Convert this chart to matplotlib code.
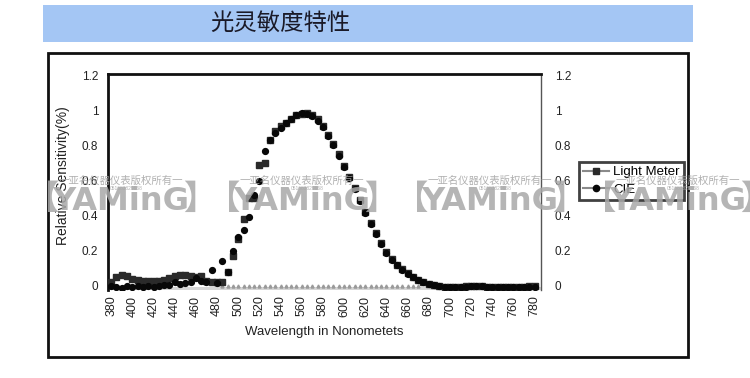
import matplotlib
matplotlib.use("Agg")
import matplotlib.pyplot as plt
from matplotlib.patches import Rectangle
from matplotlib.lines import Line2D

plt.rcParams['font.family'] = ['Liberation Sans', 'Noto Sans CJK SC', 'DejaVu Sans']

title = "光灵敏度特性"
x_label = "Wavelength in Nonometets"
y_label = "Relative Sensitivity(%)"
series_names = ["Light Meter", "CIE"]

wavelengths = [380, 385, 390, 395, 400, 405, 410, 415, 420, 425,
               430, 435, 440, 445, 450, 455, 460, 465, 470, 475,
               480, 485, 490, 495, 500, 505, 510, 515, 520, 525,
               530, 535, 540, 545, 550, 555, 560, 565, 570, 575,
               580, 585, 590, 595, 600, 605, 610, 615, 620, 625,
               630, 635, 640, 645, 650, 655, 660, 665, 670, 675,
               680, 685, 690, 695, 700, 705, 710, 715, 720, 725,
               730, 735, 740, 745, 750, 755, 760, 765, 770, 775, 780]

light_meter = [0.02, 0.05, 0.065, 0.055, 0.04, 0.035, 0.03, 0.03, 0.03, 0.03,
               0.035, 0.045, 0.055, 0.06, 0.06, 0.055, 0.05, 0.055, 0.03, 0.02,
               0.02, 0.02, 0.08, 0.17, 0.27, 0.38, 0.50, 0.50, 0.69, 0.70,
               0.83, 0.88, 0.91, 0.93, 0.95, 0.97, 0.98, 0.985, 0.97, 0.95,
               0.91, 0.86, 0.81, 0.75, 0.68, 0.62, 0.56, 0.49, 0.42, 0.36,
               0.30, 0.245, 0.195, 0.155, 0.12, 0.095, 0.072, 0.052, 0.036, 0.024,
               0.013, 0.006, 0.0, -0.004, -0.005, -0.005, -0.004, -0.003, -0.002, 0.0,
               -0.002, -0.004, -0.005, -0.005, -0.006, -0.005, -0.005, -0.004, -0.004, -0.003, -0.003]

cie = [0.0, -0.005, -0.012, 0.0, -0.005, 0.0, -0.008, 0.0, -0.005, 0.002,
       0.005, 0.008, 0.02, 0.012, 0.015, 0.025, 0.045, 0.03, 0.02, 0.09,
       0.015, 0.14, 0.08, 0.20, 0.28, 0.32, 0.39, 0.52, 0.60, 0.77,
       0.83, 0.87, 0.90, 0.93, 0.95, 0.975, 0.985, 0.98, 0.965, 0.94,
       0.905, 0.855, 0.80, 0.74, 0.675, 0.615, 0.55, 0.485, 0.415, 0.355,
       0.295, 0.24, 0.19, 0.15, 0.117, 0.09, 0.068, 0.049, 0.034, 0.022,
       0.012, 0.005, -0.002, -0.006, -0.006, -0.006, -0.005, -0.004, 0.0, 0.002,
       0.0, -0.004, -0.006, -0.006, -0.007, -0.006, -0.006, -0.005, -0.005, -0.005, -0.005]

baseline_wl = [485, 490, 495, 500, 505, 510, 515, 520, 525, 530, 535, 540, 545,
               550, 555, 560, 565, 570, 575, 580, 585, 590, 595, 600, 605, 610,
               615, 620, 625, 630, 635, 640, 645, 650, 655, 660, 665, 670]
baseline_vals = [0.0] * len(baseline_wl)

x_ticks = [380, 400, 420, 440, 460, 480, 500, 520, 540, 560, 580,
           600, 620, 640, 660, 680, 700, 720, 740, 760, 780]
y_ticks = [0, 0.2, 0.4, 0.6, 0.8, 1, 1.2]
y_tick_labels = ["0", "0.2", "0.4", "0.6", "0.8", "1", "1.2"]

W, H = 750, 378
fig = plt.figure(figsize=(7.5, 3.78), dpi=100)
fig.patch.set_facecolor('white')

def fx(px):
    return px / W

def fy(py):
    return 1 - py / H

# Title banner
fig.patches.append(Rectangle((fx(43), fy(42)), fx(693) - fx(43), fy(5) - fy(42),
                             transform=fig.transFigure, facecolor='#a4c6f4',
                             edgecolor='none', zorder=0))
fig.text(fx(280), fy(23), title, ha='center', va='center', fontsize=16.8,
         family=['Noto Sans CJK SC', 'DejaVu Sans'], color='#1a1a28')

# Outer frame
fig.patches.append(Rectangle((fx(48), fy(357)), fx(688) - fx(48), fy(53) - fy(357),
                             transform=fig.transFigure, facecolor='none',
                             edgecolor='#111111', linewidth=2.0, zorder=1))

ax = fig.add_axes([fx(108), fy(290), fx(541) - fx(108), fy(74) - fy(290)])
ax.set_xlim(377, 786)
ax.set_ylim(-0.023, 1.206)

ax.axhspan(-0.023, -0.006, color='#d6d6d6', zorder=1, linewidth=0)
ax.plot(baseline_wl, baseline_vals, linestyle='none', marker='^', markersize=2.2,
        color='#9a9a9a', zorder=2)
ax.plot(wavelengths, light_meter, linestyle='none', marker='s', markersize=4.6,
        color='#2a2a2a', zorder=3)
ax.plot(wavelengths, cie, linestyle='none', marker='o', markersize=4.2,
        color='#080808', zorder=4)

ax.set_xticks(x_ticks)
ax.set_xticklabels([str(v) for v in x_ticks], rotation=90, fontsize=9, color='#222222')
ax.set_yticks(y_ticks)
ax.set_yticklabels(y_tick_labels, fontsize=8.5, color='#222222')
ax.tick_params(axis='both', length=0)
ax.tick_params(axis='x', pad=4)
ax.tick_params(axis='y', pad=7)

ax.spines['left'].set_linewidth(2.0)
ax.spines['left'].set_color('#111111')
ax.spines['top'].set_linewidth(2.0)
ax.spines['top'].set_color('#111111')
ax.spines['right'].set_linewidth(1.0)
ax.spines['right'].set_color('#555555')
ax.spines['bottom'].set_visible(False)

ax.set_xlabel(x_label, fontsize=9.5, color='#222222', labelpad=7)
ax.set_ylabel(y_label, fontsize=10, color='#222222')
ax.yaxis.set_label_coords(fx(70) / (fx(541) - fx(108)) - fx(108) / (fx(541) - fx(108)), 0.528)

ax2 = ax.twinx()
ax2.set_ylim(ax.get_ylim())
ax2.set_yticks(y_ticks)
ax2.set_yticklabels(y_tick_labels, fontsize=8.5, color='#222222')
ax2.tick_params(axis='y', length=0, pad=10)
for s in ax2.spines.values():
    s.set_visible(False)

handles = [
    Line2D([0], [0], color='#8a8a8a', linewidth=1.5, marker='s', markersize=5,
           markerfacecolor='#2a2a2a', markeredgecolor='#2a2a2a'),
    Line2D([0], [0], color='#8a8a8a', linewidth=1.5, marker='o', markersize=4.5,
           markerfacecolor='#080808', markeredgecolor='#080808'),
]
leg = fig.legend(handles, series_names, loc='upper left',
                 bbox_to_anchor=(fx(579), fy(162)), fontsize=9.5,
                 frameon=True, fancybox=False, handlelength=2.0,
                 handletextpad=0.3, borderpad=0.3, labelspacing=0.4,
                 borderaxespad=0)
leg.get_frame().set_edgecolor('#111111')
leg.get_frame().set_linewidth(2.0)

# Watermarks
wm_color = '#a8a8a8'
for cx in [121, 302, 490, 678]:
    fig.text(fx(cx), fy(202), "YAMinG", ha='center', va='center', fontsize=23,
             fontweight='bold', color=wm_color, alpha=0.85,
             family=['DejaVu Sans'], zorder=10)
    fig.text(fx(cx - 78), fy(199), "【", ha='center', va='center', fontsize=24,
             fontweight='bold', color=wm_color, alpha=0.85,
             family=['Noto Sans CJK SC'], zorder=10)
    fig.text(fx(cx + 79), fy(199), "】", ha='center', va='center', fontsize=24,
             fontweight='bold', color=wm_color, alpha=0.85,
             family=['Noto Sans CJK SC'], zorder=10)
    fig.text(fx(cx), fy(181), "一亚名仪器仪表版权所有一", ha='center', va='center',
             fontsize=7.5, color=wm_color, alpha=0.9,
             family=['Noto Sans CJK SC', 'DejaVu Sans'], zorder=10)
    fig.text(fx(cx + 5), fy(189), "051683829668", ha='center', va='center',
             fontsize=3.5, color=wm_color, alpha=0.9, zorder=10)

fig.savefig("out.png", dpi=100)
